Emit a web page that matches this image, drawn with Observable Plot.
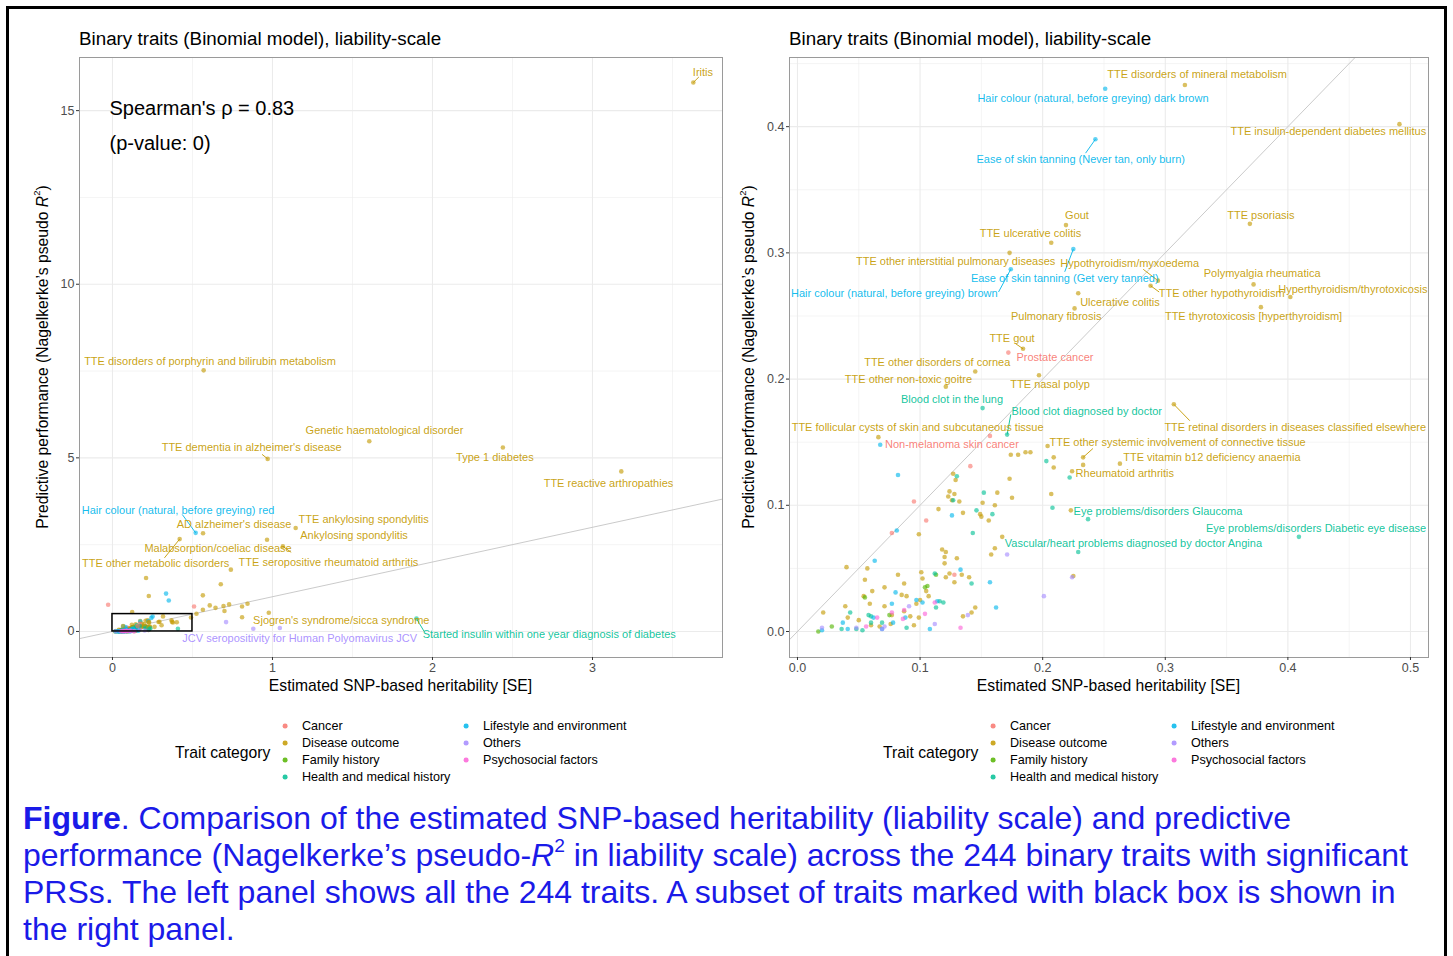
<!DOCTYPE html>
<html><head><meta charset="utf-8">
<script src="https://cdn.jsdelivr.net/npm/d3@7"></script>
<script src="https://cdn.jsdelivr.net/npm/@observablehq/plot@0.6"></script>
<style>
html,body{margin:0;padding:0;background:#fff;width:1453px;height:956px;overflow:hidden;font-family:"Liberation Sans",Arial,sans-serif;}
#root{position:relative;width:1453px;height:956px;}
#frame{position:absolute;left:6px;top:6px;width:1435px;height:1000px;border:3px solid #000;}
.abs{position:absolute;white-space:nowrap;}
.title{font-size:18.8px;color:#000;line-height:21px;}
.axtitle{font-size:15.7px;color:#000;line-height:17px;}
.ytitle{transform:translate(-50%,-50%) rotate(-90deg);}
.legtitle{font-size:15.7px;color:#000;line-height:17px;transform:translateY(-50%);}
.legtext{font-size:12.6px;color:#000;line-height:15px;transform:translateY(-50%);}
.legdot{width:4.8px;height:4.8px;border-radius:50%;transform:translate(-50%,-50%);}
#caption{font-size:32px;line-height:37px;color:#1a1ae8;}
sup{font-size:0.6em;line-height:0;vertical-align:0.75em;}
</style></head>
<body><div id="root"><div id="frame"></div></div>
<script>
// ---------------- data ----------------
const categories = ["Cancer","Disease outcome","Family history","Health and medical history","Lifestyle and environment","Others","Psychosocial factors"];
const palette = ["#F8766D","#C49A00","#53B400","#00C094","#00B6EB","#A58AFF","#FB61D7"];

// unlabeled traits: [heritability, pseudo R2]
const cancerPts = [[-0.027,0.77],[0.51,0.72],[0.141,0.131],[0.095,0.103],[0.105,0.088],[0.077,0.078],[0.128,0.045]];
const diseasePts = [
 [0.174,0.140],[0.180,0.140],[0.186,0.142],[0.190,0.142],[0.204,0.147],[0.209,0.138],[0.209,0.130],[0.233,0.132],
 [0.127,0.125],[0.129,0.120],[0.173,0.121],[0.163,0.110],[0.175,0.106],[0.207,0.109],[0.124,0.111],[0.128,0.109],
 [0.123,0.107],[0.126,0.104],[0.132,0.103],[0.115,0.097],[0.151,0.102],[0.161,0.100],[0.135,0.094],[0.149,0.093],
 [0.150,0.091],[0.156,0.088],[0.223,0.096],[0.099,0.077],[0.167,0.075],[0.161,0.066],[0.158,0.061],[0.118,0.065],
 [0.121,0.063],[0.120,0.059],[0.120,0.054],[0.130,0.058],[0.040,0.051],[0.057,0.050],[0.082,0.045],[0.055,0.041],
 [0.101,0.047],[0.102,0.042],[0.121,0.043],[0.124,0.046],[0.134,0.045],[0.140,0.043],[0.128,0.039],[0.225,0.044],
 [0.071,0.035],[0.061,0.032],[0.087,0.038],[0.054,0.028],[0.059,0.022],[0.039,0.020],[0.071,0.020],[0.085,0.029],
 [0.089,0.028],[0.105,0.032],[0.107,0.028],[0.100,0.025],[0.097,0.022],[0.087,0.016],[0.077,0.013],[0.092,0.012],
 [0.021,0.015],[0.041,0.011],[0.050,0.009],[0.060,0.005],[0.067,0.004],[0.076,0.006],[0.095,0.005],[0.099,0.011],
 [0.135,0.012],[0.142,0.015],[0.145,0.019],
 [0.21,1.54],[0.227,1.02],[0.123,0.56],[0.565,1.04],[0.677,1.36],[0.525,0.51],[0.565,0.625],[0.608,0.75],
 [0.644,0.68],[0.694,0.73],[0.729,0.78],[0.70,0.59],[0.81,0.72],[0.844,0.80],[0.81,0.41]];
const familyPts = [[0.113,0.045],[0.104,0.035],[0.106,0.036],[0.055,0.027],[0.075,0.013],[0.028,0.004],[0.017,0.000]];
const healthPts = [[0.203,0.135],[0.222,0.122],[0.130,0.123],[0.152,0.110],[0.127,0.104],[0.208,0.098],[0.146,0.096],
 [0.159,0.093],[0.143,0.078],[0.112,0.046],[0.142,0.038],[0.116,0.024],[0.119,0.023],[0.113,0.019],[0.043,0.015],
 [0.058,0.013],[0.060,0.012],[0.060,0.007],[0.069,0.007],[0.089,0.003],[0.036,0.002],[0.048,0.002],[0.053,0.001]];
const lifestylePts = [[0.0675,0.148],[0.082,0.124],[0.126,0.092],[0.081,0.080],[0.063,0.056],[0.133,0.049],[0.157,0.039],
 [0.162,0.019],[0.080,0.031],[0.077,0.022],[0.097,0.025],[0.102,0.023],[0.114,0.024],[0.088,0.011],[0.037,0.007],
 [0.062,0.011],[0.069,0.002],[0.078,0.007],[0.108,0.002],[0.020,0.001],[0.041,0.002],[0.335,1.09],[0.352,0.89]];
const othersPts = [[0.171,0.061],[0.224,0.043],[0.201,0.028],[0.091,0.020],[0.112,0.006],[0.139,0.013],[0.020,0.003],
 [0.048,0.003],[0.071,0.004],[0.069,0.002],[0.71,0.27],[0.88,0.08]];
const psychoPts = [[0.112,0.023],[0.087,0.017],[0.077,0.015],[0.065,0.011],[0.056,0.004],[0.104,0.014],[0.133,0.003],[0.086,0.010]];

// labelled traits: name, category, h2, r2, label anchor (lx, ly), segment end (sx, sy)
const leftLabels = [
 ["Iritis","Disease outcome",3.63,15.81,3.69,16.1,3.665,15.97],
 ["TTE disorders of porphyrin and bilirubin metabolism","Disease outcome",0.57,7.52,0.61,7.77],
 ["Genetic haematological disorder","Disease outcome",1.605,5.48,1.70,5.78],
 ["TTE dementia in alzheimer's disease","Disease outcome",0.97,4.97,0.87,5.29,0.935,5.1],
 ["Type 1 diabetes","Disease outcome",2.44,5.30,2.39,5.0],
 ["TTE reactive arthropathies","Disease outcome",3.18,4.61,3.10,4.26],
 ["Hair colour (natural, before greying) red","Lifestyle and environment",0.52,2.84,0.41,3.49,0.436,3.37],
 ["AD alzheimer's disease","Disease outcome",0.566,2.83,0.76,3.08],
 ["TTE ankylosing spondylitis","Disease outcome",1.145,2.98,1.57,3.22],
 ["Ankylosing spondylitis","Disease outcome",0.966,2.64,1.51,2.77],
 ["Malabsorption/coeliac disease","Disease outcome",0.74,1.78,0.66,2.38],
 ["TTE other metabolic disorders","Disease outcome",0.42,2.66,0.27,1.97,0.325,2.12],
 ["TTE seropositive rheumatoid arthritis","Disease outcome",1.065,2.45,1.35,1.98,1.117,2.28],
 ["Sjogren's syndrome/sicca syndrome","Disease outcome",0.977,0.54,1.43,0.32],
 ["Started insulin within one year diagnosis of diabetes","Health and medical history",1.90,0.37,2.73,-0.08,1.948,0.0],
 ["JCV seropositivity for Human Polyomavirus JCV","Others",1.046,0.10,1.17,-0.2]
];
const rightLabels = [
 ["TTE disorders of mineral metabolism","Disease outcome",0.316,0.433,0.326,0.441],
 ["Hair colour (natural, before greying) dark brown","Lifestyle and environment",0.251,0.430,0.241,0.422],
 ["TTE insulin-dependent diabetes mellitus","Disease outcome",0.491,0.402,0.433,0.396],
 ["Ease of skin tanning (Never tan, only burn)","Lifestyle and environment",0.243,0.390,0.231,0.374,0.235,0.379],
 ["Gout","Disease outcome",0.219,0.322,0.228,0.330],
 ["TTE psoriasis","Disease outcome",0.369,0.323,0.378,0.330],
 ["TTE ulcerative colitis","Disease outcome",0.207,0.308,0.190,0.315],
 ["TTE other interstitial pulmonary diseases","Disease outcome",0.173,0.300,0.129,0.293],
 ["Hypothyroidism/myxoedema","Disease outcome",0.294,0.278,0.271,0.292,0.282,0.287],
 ["Ease of skin tanning (Get very tanned)","Lifestyle and environment",0.225,0.303,0.218,0.280,0.218,0.285],
 ["Hair colour (natural, before greying) brown","Lifestyle and environment",0.174,0.287,0.079,0.268,0.164,0.269],
 ["Polymyalgia rheumatica","Disease outcome",0.372,0.275,0.379,0.284],
 ["Hyperthyroidism/thyrotoxicosis","Disease outcome",0.402,0.265,0.453,0.271],
 ["TTE other hypothyroidism","Disease outcome",0.288,0.274,0.346,0.268,0.295,0.269],
 ["Ulcerative colitis","Disease outcome",0.229,0.268,0.263,0.261],
 ["Pulmonary fibrosis","Disease outcome",0.226,0.256,0.211,0.250],
 ["TTE thyrotoxicosis [hyperthyroidism]","Disease outcome",0.378,0.257,0.372,0.250],
 ["TTE gout","Disease outcome",0.184,0.224,0.175,0.232,0.178,0.228],
 ["Prostate cancer","Cancer",0.172,0.221,0.210,0.217],
 ["TTE other disorders of cornea","Disease outcome",0.145,0.206,0.114,0.213],
 ["TTE other non-toxic goitre","Disease outcome",0.121,0.194,0.0905,0.200],
 ["TTE nasal polyp","Disease outcome",0.197,0.203,0.206,0.196],
 ["Blood clot in the lung","Health and medical history",0.151,0.177,0.126,0.184],
 ["Blood clot diagnosed by doctor","Health and medical history",0.171,0.156,0.236,0.174,0.174,0.172],
 ["TTE follicular cysts of skin and subcutaneous tissue","Disease outcome",0.066,0.154,0.098,0.162],
 ["TTE retinal disorders in diseases classified elsewhere","Disease outcome",0.307,0.180,0.406,0.162,0.320,0.167],
 ["Non-melanoma skin cancer","Cancer",0.157,0.155,0.126,0.148],
 ["TTE other systemic involvement of connective tissue","Disease outcome",0.233,0.138,0.310,0.150,0.241,0.145],
 ["TTE vitamin b12 deficiency anaemia","Disease outcome",0.263,0.133,0.338,0.138],
 ["Rheumatoid arthritis","Disease outcome",0.224,0.127,0.267,0.125],
 ["Eye problems/disorders Glaucoma","Health and medical history",0.237,0.089,0.294,0.095],
 ["Eye problems/disorders Diabetic eye disease","Health and medical history",0.409,0.075,0.423,0.082],
 ["Vascular/heart problems diagnosed by doctor Angina","Health and medical history",0.229,0.063,0.274,0.070]
];

const leftXTicks = [0,1,2,3], leftXMinor = [0.5,1.5,2.5,3.5];
const leftYTicks = [0,5,10,15], leftYMinor = [2.5,7.5,12.5];
const rightXTicks = [0,0.1,0.2,0.3,0.4,0.5], rightXMinor = [0.05,0.15,0.25,0.35,0.45];
const rightYTicks = [0,0.1,0.2,0.3,0.4], rightYMinor = [0.05,0.15,0.25,0.35,0.45];
const subsetBox = {h2:[0,0.5], r2:[0,0.5]};
const spearman = "Spearman's \u03c1 = 0.83\n(p-value: 0)";
const panelTitle = "Binary traits (Binomial model), liability-scale";
const xTitle = "Estimated SNP-based heritability [SE]";

// ---------------- build ----------------
const FONT = '"Liberation Sans", Arial, sans-serif';
const byCat = [cancerPts, diseasePts, familyPts, healthPts, lifestylePts, othersPts, psychoPts];
const toLab = r => ({name:r[0], cat:r[1], h2:r[2], r2:r[3], lx:r[4], ly:r[5], sx:r[6], sy:r[7]});
const leftL = leftLabels.map(toLab), rightL = rightLabels.map(toLab);
const allPoints = [];
byCat.forEach((arr,i) => arr.forEach(p => allPoints.push({cat:categories[i], h2:p[0], r2:p[1]})));
leftL.concat(rightL).forEach(d => allPoints.push({cat:d.cat, h2:d.h2, r2:d.r2}));

function panel({xDomain, yDomain, xTicks, yTicks, xMinor, yMinor, fmt, labels, extra, width, mr}) {
  const grid = {stroke:"#ebebeb", strokeOpacity:1};
  return Plot.plot({
    width, height:650, marginLeft:59, marginRight:mr, marginTop:7, marginBottom:43,
    x:{domain:xDomain}, y:{domain:yDomain},
    color:{domain:categories, range:palette},
    style:{fontFamily:FONT, background:"transparent", overflow:"visible"},
    marks:[
      Plot.gridX(xMinor, {...grid, strokeWidth:0.55}),
      Plot.gridY(yMinor, {...grid, strokeWidth:0.55}),
      Plot.gridX(xTicks, {...grid, strokeWidth:1.1}),
      Plot.gridY(yTicks, {...grid, strokeWidth:1.1}),
      Plot.link([xDomain], {x1:d=>d[0], y1:d=>d[0], x2:d=>d[1], y2:d=>d[1], stroke:"#c4c4c4", strokeWidth:0.9, clip:true}),
      Plot.dot(allPoints, {x:"h2", y:"r2", fill:"cat", r:2.3, fillOpacity:0.62, clip:true}),
      Plot.link(labels.filter(d=>d.sx!=null), {x1:"h2", y1:"r2", x2:"sx", y2:"sy", stroke:"cat", strokeWidth:0.9}),
      Plot.text(labels, {x:"lx", y:"ly", text:"name", fill:"cat", fontSize:11, fillOpacity:0.92}),
      ...extra,
      Plot.frame({stroke:"#9a9a9a", strokeWidth:1}),
      Plot.axisX(xTicks, {tickFormat:fmt, tickSize:3, tickPadding:3, fontSize:12.5, fill:"#4d4d4d", stroke:"#333", label:null}),
      Plot.axisY(yTicks, {tickFormat:fmt, tickSize:3, tickPadding:2, fontSize:12.5, fill:"#4d4d4d", stroke:"#333", label:null})
    ]
  });
}

const root = document.getElementById("root");
function add(el, left, top){ el.style.position="absolute"; el.style.left=left+"px"; el.style.top=top+"px"; root.appendChild(el); return el; }
function div(cls, html){ const d=document.createElement("div"); d.className="abs "+cls; d.innerHTML=html; return d; }

const leftPlot = panel({
  xDomain:[-0.206,3.8125], yDomain:[-0.75,16.53], xTicks:leftXTicks, yTicks:leftYTicks,
  xMinor:leftXMinor, yMinor:leftYMinor, fmt:d3.format("d"), labels:leftL, width:710, mr:8,
  extra:[
    Plot.rect([subsetBox], {x1:d=>d.h2[0], x2:d=>d.h2[1], y1:d=>d.r2[0], y2:d=>d.r2[1], fill:"none", stroke:"#000", strokeWidth:1.5}),
    Plot.text([spearman], {frameAnchor:"top-left", textAnchor:"start", lineAnchor:"middle", dx:30, dy:63.5, lineHeight:1.75, fontSize:20, fill:"#000"})
  ]
});
add(leftPlot, 20, 50);

const rightPlot = panel({
  xDomain:[-0.0065,0.5147], yDomain:[-0.0206,0.4548], xTicks:rightXTicks, yTicks:rightYTicks,
  xMinor:rightXMinor, yMinor:rightYMinor, fmt:d3.format(".1f"), labels:rightL, width:705, mr:7, extra:[]
});
add(rightPlot, 730, 50);

// titles & axis titles
const yTitleHTML = "Predictive performance (Nagelkerke\u2019s pseudo <i>R</i><sup>2</sup>)";
[[79,42,400.5],[789,748,1108.5]].forEach(([fx, yx, cx]) => {
  add(div("title", panelTitle), fx, 28);
  const xt = add(div("axtitle", xTitle), cx, 677); xt.style.transform="translateX(-50%)";
  add(div("axtitle ytitle", yTitleHTML), yx, 357);
});

// legends
[[175,285,466],[883,993,1174]].forEach(([tx, c1, c2]) => {
  add(div("legtitle", "Trait category"), tx, 752);
  categories.forEach((c,i) => {
    const col = i < 4 ? c1 : c2, row = i < 4 ? i : i-4, y = 726 + row*17;
    const dot = add(div("legdot", ""), col, y); dot.style.background = palette[i]; dot.style.opacity = 0.85;
    add(div("legtext", c), col+17, y);
  });
});

// caption
add(div("", '<div id="caption"><b>Figure</b>. Comparison of the estimated SNP-based heritability (liability scale) and predictive<br>performance (Nagelkerke\u2019s pseudo-<i>R</i><sup>2</sup> in liability scale) across the 244 binary traits with significant<br>PRSs. The left panel shows all the 244 traits. A subset of traits marked with black box is shown in<br>the right panel.</div>'), 23, 800);
</script>
</body></html>
